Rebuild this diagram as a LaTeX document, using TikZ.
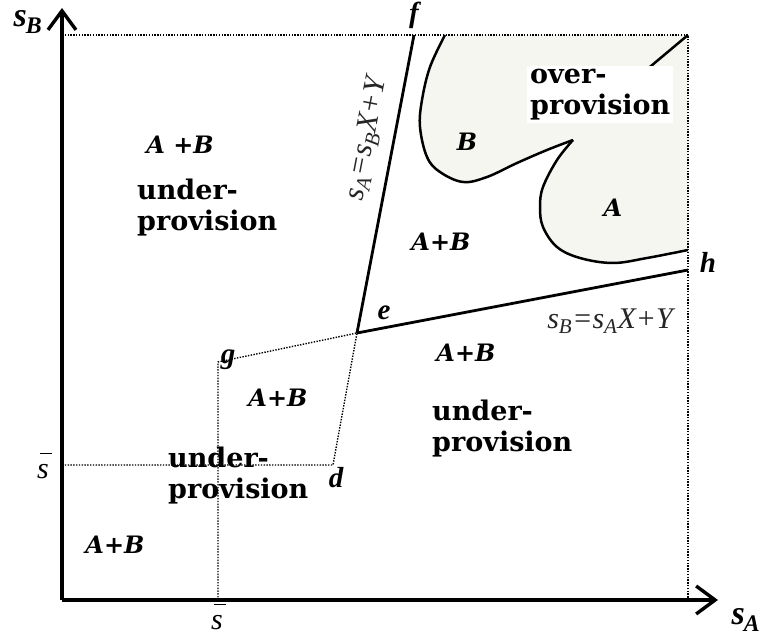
\documentclass[tikz,border=0pt]{standalone}
\usepackage{fontspec}
\setmainfont{Liberation Serif}
\newfontfamily\dvs{DejaVu Serif}
\usetikzlibrary{arrows.meta}
\definecolor{shadecol}{RGB}{246,246,241}
\newcommand{\sbarlabel}{\makebox[0pt][l]{\hspace{0.08em}\raisebox{0.82em}{\rule{0.42em}{0.045em}}}\textit{s}}
\begin{document}
\begin{tikzpicture}[x=1pt,y=-1pt,
  bigtxt/.style={font=\dvs\bfseries\fontsize{27}{31}\selectfont, align=left, inner sep=0pt},
  abtxt/.style={font=\dvs\bfseries\itshape\fontsize{24}{26}\selectfont, inner sep=0pt},
  pttxt/.style={font=\bfseries\itshape\fontsize{29}{30}\selectfont, inner sep=0pt},
  axtxt/.style={font=\bfseries\itshape\fontsize{34}{36}\selectfont, inner sep=0pt},
  sbtxt/.style={font=\fontsize{30}{32}\selectfont, inner sep=0pt},
  eqtxt/.style={font=\itshape\fontsize{30}{32}\selectfont, text=black!85, inner sep=0pt},
  dotl/.style={line width=1.4pt, dash pattern=on 1.4pt off 1.4pt},
  bold line/.style={line width=2.8pt},
  axis/.style={line width=3.6pt, -{Straight Barb[length=19pt,width=28pt,line width=3.4pt]}},
  curve/.style={line width=2.5pt}]
\useasboundingbox (0,0) rectangle (777,639);
% coordinates
\coordinate (O) at (62,600);
\coordinate (ytip) at (62,8);
\coordinate (xtip) at (718,600);
\coordinate (TL) at (62,35);
\coordinate (TR) at (688,35);
\coordinate (BR) at (688,600);
\coordinate (e) at (357,333);
\coordinate (f) at (414,35);
\coordinate (h) at (688,270);
\coordinate (g) at (218,362);
\coordinate (d) at (333,465);
\coordinate (sL) at (62,465);
\coordinate (sB) at (218,600);
\coordinate (tip) at (573,140);
\coordinate (Btop) at (445,35);
\coordinate (Aend) at (688,250);
% shaded region
\fill[shadecol] (Btop) -- (TR) -- (Aend)
  plot[smooth, tension=0.6] coordinates {(688,250) (647,258) (613,263) (580,258) (557,247) (543,227) (540,207) (543,187) (557,160) (573,140)}
  plot[smooth, tension=0.6] coordinates {(573,140) (547,150) (517,163) (487,177) (463,182) (440,172) (427,157) (420,127) (422,100) (430,67) (445,35)} -- cycle;
\draw[curve] plot[smooth, tension=0.6] coordinates {(445,35) (430,67) (422,100) (420,127) (427,157) (440,172) (463,182) (487,177) (517,163) (547,150) (573,140)};
\draw[curve] plot[smooth, tension=0.6] coordinates {(573,140) (557,160) (543,187) (540,207) (543,227) (557,247) (580,258) (613,263) (647,258) (688,250)};
% dotted lines
\draw[dotl] (TL) -- (TR) -- (BR);
\draw[dotl] (sL) -- (d) -- (e) -- (g) -- (sB);
% diagonal in top right
\draw[curve] (TR) -- (620,92);
% thick lines
\draw[bold line] (e) -- (f);
\draw[bold line] (e) -- (h);
% axes
\draw[axis] (O) -- (ytip);
\draw[axis] (O) -- (xtip);
% labels
\node[bigtxt, fill=white, inner sep=3pt, anchor=north west] (over) at (527,66) {over-\\provision};
\node[axtxt] (sBl) at (28,22) {s\textsubscript{\kern-1ptB}};
\node[axtxt] (sAl) at (746,620) {s\textsubscript{\kern-1ptA}};
\node[pttxt] (fl) at (414,15) {f};
\node[pttxt] (hl) at (708,262) {h};
\node[pttxt] (el) at (384,313) {e};
\node[pttxt] (gl) at (228,360) {g};
\node[pttxt] (dl) at (336,478) {d};
\node[sbtxt] (sbar1) at (43,466) {\sbarlabel};
\node[sbtxt] (sbar2) at (217,617) {\sbarlabel};
\node[abtxt] (ab1) at (180,145) {A +B};
\node[bigtxt, anchor=west] (up1) at (137,208) {under-\\provision};
\node[abtxt] (Bl) at (467,142) {B};
\node[abtxt] (Al) at (613,208) {A};
\node[abtxt] (ab2) at (441,242) {A+B};
\node[eqtxt] (eq1) at (610,321) {s\textsubscript{B}=s\textsubscript{A}X+Y};
\node[eqtxt, rotate=79] (eq2) at (367,139) {s\textsubscript{A}=s\textsubscript{B}X+Y};
\node[abtxt] (ab3) at (466,353) {A+B};
\node[bigtxt, anchor=west] (up2) at (432,429) {under-\\provision};
\node[abtxt] (ab4) at (278,398) {A+B};
\node[bigtxt, anchor=west] (up3) at (168,476) {under-\\provision};
\node[abtxt] (ab5) at (115,545) {A+B};
\end{tikzpicture}
\end{document}
